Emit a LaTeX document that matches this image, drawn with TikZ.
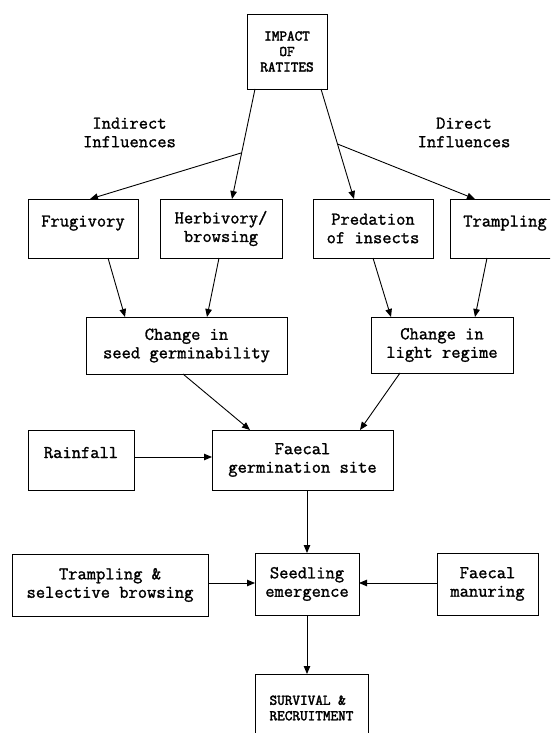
\documentclass[tikz,border=0pt]{standalone}
\usepackage{fontspec}
\newfontfamily\typew[FakeBold=1.4]{Latin Modern Mono}
\newfontfamily\typewcaps[FakeBold=2.4]{Latin Modern Mono}
\usetikzlibrary{arrows.meta,calc}
\begin{document}
\begin{tikzpicture}[x=1pt,y=-1pt,
  txt/.style={font=\typew\fontsize{18}{18.5}\selectfont},
  capstxt/.style={font=\typewcaps\fontsize{14.8}{15.5}\selectfont},
  box/.style={draw, line width=0.9pt, inner sep=0pt, outer sep=0pt, align=center, txt},
  lift/.style={text height=10pt, text depth=14pt},
  lbl/.style={align=center, inner sep=0pt, txt},
  arr/.style={line width=0.9pt, -{Triangle[length=8pt,width=6.5pt]}}]
\useasboundingbox (0,0) rectangle (550,733);
\clip (0,0) rectangle (550,733);
% boxes
\node[box, capstxt, minimum width=80pt, minimum height=75pt] (impact) at (287,51.5) {IMPACT\\OF\\RATITES};
\node[lbl] (indirect) at (129.5,132.5) {Indirect\\Influences};
\node[lbl] (direct) at (464,132.5) {Direct\\Influences};
\node[box, lift, minimum width=110pt, minimum height=59pt] (frug) at (83,228.5) {Frugivory};
\node[box, minimum width=122pt, minimum height=59pt] (herb) at (221,228.5) {Herbivory/\\browsing};
\node[box, minimum width=120pt, minimum height=59pt] (pred) at (373,228.5) {Predation\\of insects};
\node[box, lift, minimum width=110pt, minimum height=59pt] (tramp) at (505,228.5) {Trampling};
\node[box, minimum width=201pt, minimum height=57pt] (seed) at (186.5,345.5) {Change in\\seed germinability};
\node[box, minimum width=142pt, minimum height=56pt] (light) at (442,345) {Change in\\light regime};
\node[box, lift, minimum width=106pt, minimum height=60pt] (rain) at (81,460) {Rainfall};
\node[box, minimum width=181pt, minimum height=60pt] (faecal) at (302.5,460) {Faecal\\germination site};
\node[box, minimum width=196pt, minimum height=62pt] (tsb) at (110,585) {Trampling \&\\selective browsing};
\node[box, minimum width=104pt, minimum height=62pt] (seedling) at (307,584) {Seedling\\emergence};
\node[box, minimum width=101pt, minimum height=62pt] (manure) at (487.5,584) {Faecal\\manuring};
\node[box, capstxt, align=left, minimum width=113pt, minimum height=68pt] (surv) at (311.5,708) {SURVIVAL \&\\RECRUITMENT};
% connectors
\draw[arr] ([xshift=-32pt]impact.south) -- coordinate[pos=0.58] (bl) ([xshift=11pt]herb.north);
\draw[arr] (bl) -- ([xshift=7pt]frug.north);
\draw[arr] ([xshift=34pt]impact.south) -- coordinate[pos=0.5] (br) ([xshift=-19pt]pred.north);
\draw[arr] (br) -- ([xshift=-30pt]tramp.north);
\draw[arr] ([xshift=25pt]frug.south) -- ([xshift=-61.5pt]seed.north);
\draw[arr] ([xshift=-2pt]herb.south) -- ([xshift=20.5pt]seed.north);
\draw[arr] (pred.south) -- ([xshift=-51pt]light.north);
\draw[arr] ([xshift=-18pt]tramp.south) -- ([xshift=33pt]light.north);
\draw[arr] ([xshift=-3.5pt]seed.south) -- ([xshift=-52.5pt]faecal.north);
\draw[arr] ([xshift=-42pt]light.south) -- ([xshift=57.5pt]faecal.north);
\draw[arr] ([yshift=3pt]rain.east) -- ([yshift=3pt]rain.east -| faecal.west);
\draw[arr] ([xshift=4.5pt]faecal.south) -- (seedling.north);
\draw[arr] ([yshift=2pt]tsb.east) -- ([yshift=2pt]tsb.east -| seedling.west);
\draw[arr] ([yshift=1pt]manure.west) -- ([yshift=1pt]seedling.east);
\draw[arr] (seedling.south) -- ([xshift=-4.5pt]surv.north);
\end{tikzpicture}
\end{document}
